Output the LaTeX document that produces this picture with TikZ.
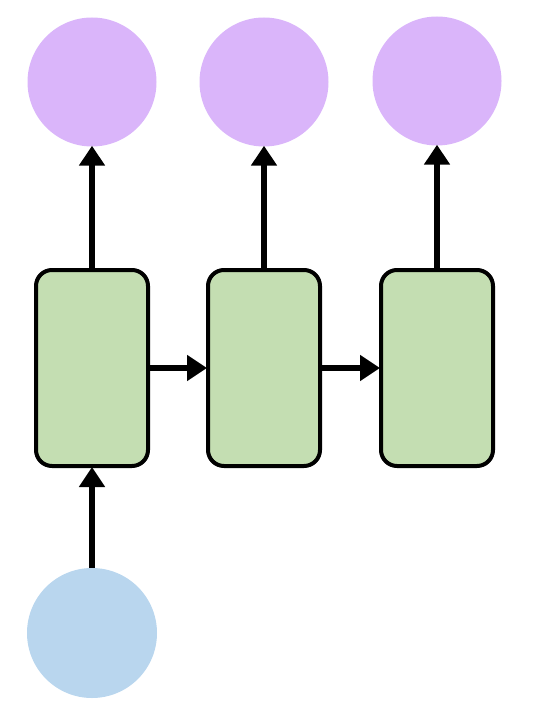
\documentclass[tikz,border=0pt]{standalone}
\usetikzlibrary{arrows.meta}
\definecolor{outpurple}{RGB}{218,181,250}
\definecolor{cellgreen}{RGB}{196,222,178}
\definecolor{inblue}{RGB}{185,214,238}
\tikzset{
  outnode/.style={circle, fill=outpurple, draw=none, minimum size=129pt, inner sep=0pt},
  innode/.style={circle, fill=inblue, draw=none, minimum size=130pt, inner sep=0pt},
  cellbox/.style={rectangle, rounded corners=16pt, fill=cellgreen, draw=black, line width=4pt, minimum width=112pt, minimum height=196pt, inner sep=0pt},
  conn/.style={line width=6pt, -{Triangle[length=20pt,width=25pt]}, shorten >=-1pt}
}
\begin{document}
\begin{tikzpicture}[x=1pt,y=-1pt]
\useasboundingbox (0,0) rectangle (536,703);
\node[outnode] (y1) at (92,82) {};
\node[outnode] (y2) at (264,82) {};
\node[outnode] (y3) at (437,81) {};
\node[cellbox] (a1) at (92,368) {};
\node[cellbox] (a2) at (264,368) {};
\node[cellbox] (a3) at (437,368) {};
\node[innode] (x1) at (92,633) {};
\draw[conn] (a1.north) -- (y1.south);
\draw[conn] (a2.north) -- (y2.south);
\draw[conn] (a3.north) -- (y3.south);
\draw[conn] (a1.east) -- (a2.west);
\draw[conn] (a2.east) -- (a3.west);
\draw[conn] (x1.north) -- (a1.south);
\end{tikzpicture}
\end{document}
